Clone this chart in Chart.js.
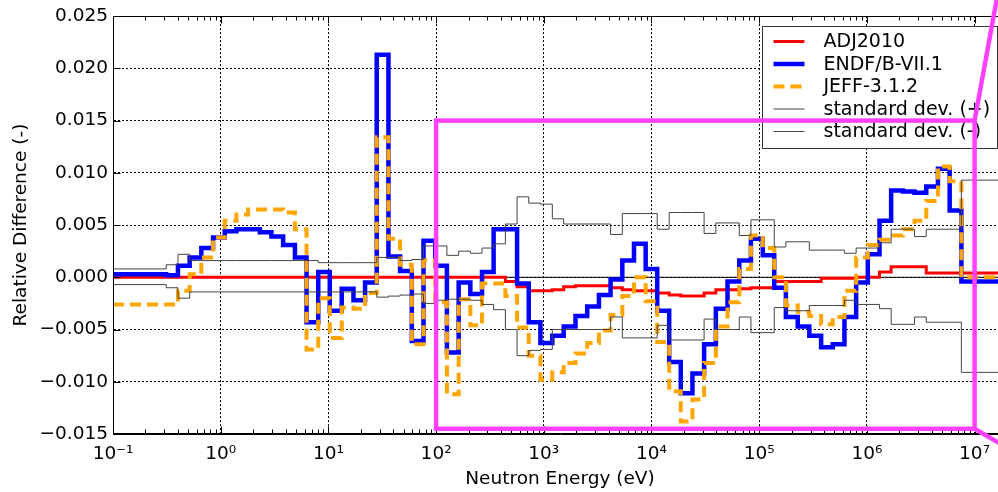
<!DOCTYPE html>
<html>
<head>
<meta charset="utf-8">
<script src="https://cdn.jsdelivr.net/npm/chart.js@4/dist/chart.umd.min.js"></script>
<style>
  html, body { margin: 0; padding: 0; background: #fff; overflow: hidden; }
  #wrap { width: 1010px; height: 492px; }
</style>
</head>
<body>
<div id="wrap"><canvas id="myChart" width="1010" height="492"></canvas></div>
<script>
// group boundaries in eV (quarter-lethargy groups above ~0.3 eV)
var edges = [0.1, 0.312, 0.401, 0.515, 0.661, 0.849, 1.09, 1.40, 1.80, 2.31,
    2.96, 3.80, 4.89, 6.27, 8.05, 10.3, 13.3, 17.1, 21.9, 28.1,
    36.1, 46.3, 59.5, 76.4, 98.1, 126, 162, 208, 267, 342,
    440, 565, 725, 931, 1.20e3, 1.53e3, 1.97e3, 2.53e3, 3.25e3, 4.17e3,
    5.36e3, 6.88e3, 8.83e3, 1.13e4, 1.46e4, 1.87e4, 2.40e4, 3.08e4, 3.96e4, 5.08e4,
    6.53e4, 8.38e4, 1.08e5, 1.38e5, 1.77e5, 2.28e5, 2.92e5, 3.76e5, 4.82e5, 6.19e5,
    7.95e5, 1.02e6, 1.31e6, 1.68e6, 2.16e6, 2.77e6, 3.56e6, 4.57e6, 5.87e6, 7.54e6,
    2.0e7];

// relative difference per group (one value per interval of edges)
var adj2010 = [0, 0, 0, 0, 0, 0, 0, 0, 0, 0,
    0, 0, 0, 0, 0, 0, 0, 0, 0, 0,
    0, 0, 0, 0, 0, 0, 0, 0, 0, 0,
    -0.0004, -0.0009, -0.0013, -0.0013, -0.0012, -0.0009, -0.0008, -0.0008, -0.0008, -0.0010,
    -0.0012, -0.0013, -0.0013, -0.0015, -0.0017, -0.0018, -0.0018, -0.0015, -0.0012, -0.0012,
    -0.0011, -0.0010, -0.0010, -0.0004, -0.0004, -0.0004, -0.0004, -0.0001, -0.0001, -0.0001,
    0.0000, 0.0000, 0.0005, 0.0010, 0.0010, 0.0010, 0.0004, 0.0004, 0.0004, 0.0004];

var endf71 = [0.0003, 0.0002, 0.0011, 0.0019, 0.0028, 0.0038, 0.0044, 0.0046, 0.0046, 0.0043,
    0.0039, 0.0031, 0.0019, -0.0043, 0.0005, -0.0032, -0.0011, -0.0022, -0.0005, 0.0213,
    0.0020, 0.0006, -0.0061, 0.0035, 0.0011, -0.0072, -0.0005, -0.0016, 0.0005, 0.0046,
    0.0046, -0.0006, -0.0043, -0.0063, -0.0056, -0.0047, -0.0037, -0.0028, -0.0017, -0.0002,
    0.0016, 0.0032, 0.0008, -0.0032, -0.0081, -0.0111, -0.0092, -0.0064, -0.0030, -0.0004,
    0.0016, 0.0037, 0.0021, -0.0010, -0.0038, -0.0047, -0.0056, -0.0067, -0.0064, -0.0038,
    -0.0005, 0.0022, 0.0054, 0.0083, 0.0082, 0.0081, 0.0087, 0.0104, 0.0064, -0.0004];

var jeff312 = [-0.0026, -0.0026, -0.0013, 0.0003, 0.0019, 0.0038, 0.0054, 0.0060, 0.0065, 0.0065,
    0.0065, 0.0062, 0.0046, -0.0069, -0.0020, -0.0058, -0.0029, -0.0030, -0.0015, 0.0134,
    0.0037, 0.0012, -0.0064, 0.0016, -0.0024, -0.0112, -0.0021, -0.0046, -0.0006, -0.0006,
    -0.0018, -0.0048, -0.0075, -0.0098, -0.0091, -0.0082, -0.0073, -0.0063, -0.0051, -0.0036,
    -0.0018, 0.0000, -0.0023, -0.0062, -0.0109, -0.0138, -0.0117, -0.0082, -0.0047, -0.0024,
    0.0008, 0.0040, 0.0028, 0.0000, -0.0027, -0.0033, -0.0037, -0.0045, -0.0038, -0.0013,
    0.0019, 0.0031, 0.0036, 0.0040, 0.0046, 0.0054, 0.0073, 0.0106, 0.0092, 0.0000];

var stdPlus = [0.0008, 0.0012, 0.0022, 0.0016, 0.0016, 0.0016, 0.0016, 0.0016, 0.0016, 0.0016,
    0.0016, 0.0016, 0.0016, 0.0016, 0.0014, 0.0014, 0.0014, 0.0014, 0.0014, 0.0019,
    0.0019, 0.0016, 0.0017, 0.0030, 0.0030, 0.0021, 0.0025, 0.0023, 0.0028, 0.0032,
    0.0051, 0.0077, 0.0071, 0.0070, 0.0056, 0.0051, 0.0051, 0.0051, 0.0051, 0.0041,
    0.0061, 0.0061, 0.0061, 0.0046, 0.0062, 0.0062, 0.0062, 0.0042, 0.0052, 0.0052,
    0.0040, 0.0055, 0.0055, 0.0029, 0.0034, 0.0034, 0.0026, 0.0026, 0.0026, 0.0023,
    0.0028, 0.0028, 0.0033, 0.0046, 0.0046, 0.0039, 0.0046, 0.0046, 0.0046, 0.0093];

var stdMinus = [-0.0007, -0.0010, -0.0020, -0.0014, -0.0014, -0.0014, -0.0014, -0.0014, -0.0014, -0.0014,
    -0.0014, -0.0014, -0.0014, -0.0014, -0.0014, -0.0014, -0.0014, -0.0014, -0.0014, -0.0019,
    -0.0018, -0.0017, -0.0016, -0.0025, -0.0022, -0.0021, -0.0021, -0.0022, -0.0026, -0.0031,
    -0.0050, -0.0075, -0.0070, -0.0069, -0.0050, -0.0050, -0.0050, -0.0050, -0.0050, -0.0038,
    -0.0058, -0.0058, -0.0058, -0.0046, -0.0060, -0.0060, -0.0060, -0.0040, -0.0050, -0.0050,
    -0.0038, -0.0053, -0.0053, -0.0029, -0.0032, -0.0032, -0.0027, -0.0027, -0.0027, -0.0022,
    -0.0026, -0.0026, -0.0030, -0.0045, -0.0045, -0.0038, -0.0043, -0.0043, -0.0043, -0.0091];

var decadeTicks = [1e-1, 1e0, 1e1, 1e2, 1e3, 1e4, 1e5, 1e6, 1e7];

// zoom-region marker (data units) and its two connector end points
var zoomBoxX = [1e2, 1e7];
var zoomBoxY = [-0.0145, 0.015];
var zoomLinks = [[1e7, 0.015, 1.7e7, 0.028], [1e7, -0.0145, 2e7, -0.0163]];

var FONT = 'DejaVu Sans';
var FONT_SIZE = 18.5;

Chart.defaults.font.family = FONT;
Chart.defaults.font.size = FONT_SIZE;
Chart.defaults.color = '#000';

// turn group values into points for a step line
function steps(values) {
    var pts = [];
    for (var i = 0; i < values.length; i++) {
        pts.push({x: edges[i], y: values[i]});
    }
    pts.push({x: edges[edges.length - 1], y: values[values.length - 1]});
    return pts;
}

var supDigits = {'-': '\u207B', '0': '\u2070', '1': '\u00B9', '2': '\u00B2', '3': '\u00B3',
    '4': '\u2074', '5': '\u2075', '6': '\u2076', '7': '\u2077', '8': '\u2078', '9': '\u2079'};

function powerLabel(v) {
    var e = String(Math.round(Math.log10(v)));
    var s = '';
    for (var i = 0; i < e.length; i++) s += supDigits[e[i]];
    return '10' + s;
}

// inward ticks, top spine and legend box
var axesDecor = {
    id: 'axesDecor',
    afterDatasetsDraw: function(chart) {
        var ctx = chart.ctx;
        var a = chart.chartArea;
        var xs = chart.scales.x, ys = chart.scales.y;
        ctx.save();
        ctx.strokeStyle = '#000';
        ctx.lineWidth = 1;
        ctx.setLineDash([]);
        ctx.beginPath();
        var top = Math.round(a.top) + 0.5, bot = Math.round(a.bottom) - 0.5, left = Math.round(a.left) + 0.5;
        ctx.moveTo(left, bot); ctx.lineTo(left, top); ctx.lineTo(a.right + 5, top);
        ctx.moveTo(left, bot); ctx.lineTo(a.right + 5, bot);
        // x ticks, major and minor, pointing inward
        for (var d = 0; d < decadeTicks.length; d++) {
            for (var m = 1; m <= 9; m++) {
                var v = decadeTicks[d] * m;
                if (v > xs.max) break;
                var px = Math.round(xs.getPixelForValue(v)) + 0.5;
                var len = (m === 1) ? 7 : 4;
                ctx.moveTo(px, bot); ctx.lineTo(px, bot - len);
                ctx.moveTo(px, top); ctx.lineTo(px, top + len);
            }
        }
        ys.ticks.forEach(function(t) {
            var py = Math.round(ys.getPixelForValue(t.value)) + 0.5;
            ctx.moveTo(left, py); ctx.lineTo(left + 7, py);
        });
        ctx.stroke();

        // legend in the upper right corner of the plot
        var items = chart.data.datasets.filter(function(ds) { return ds.label; });
        var bw = 235, bh = 122;
        var bx = Math.round(a.right) - 10 - bw + 0.5, by = Math.round(a.top) + 10 + 0.5;
        ctx.fillStyle = '#fff';
        ctx.fillRect(bx, by, bw, bh);
        ctx.strokeStyle = '#333';
        ctx.strokeRect(bx, by, bw, bh);
        ctx.font = '19px "' + FONT + '"';
        ctx.textBaseline = 'middle';
        ctx.textAlign = 'left';
        items.forEach(function(ds, i) {
            var y = by + 15 + i * 22.5;
            ctx.beginPath();
            ctx.strokeStyle = ds.borderColor;
            ctx.lineWidth = ds.borderWidth;
            ctx.setLineDash(ds.borderDash || []);
            ctx.moveTo(bx + 11, y); ctx.lineTo(bx + 42, y);
            ctx.stroke();
            ctx.fillStyle = '#000';
            ctx.fillText(ds.label, bx + 61, y + 1);
        });
        ctx.restore();
    },
    afterDraw: function(chart) {
        var ctx = chart.ctx;
        var xs = chart.scales.x, ys = chart.scales.y;
        var x0 = xs.getPixelForValue(zoomBoxX[0]), x1 = xs.getPixelForValue(zoomBoxX[1]);
        var y0 = ys.getPixelForValue(zoomBoxY[1]), y1 = ys.getPixelForValue(zoomBoxY[0]);
        ctx.save();
        ctx.strokeStyle = '#ff40ff';
        ctx.lineWidth = 4.5;
        ctx.lineJoin = 'miter';
        ctx.strokeRect(x0, y0, x1 - x0, y1 - y0);
        ctx.beginPath();
        zoomLinks.forEach(function(l) {
            ctx.moveTo(xs.getPixelForValue(l[0]), ys.getPixelForValue(l[1]));
            ctx.lineTo(xs.getPixelForValue(l[2]), ys.getPixelForValue(l[3]));
        });
        ctx.stroke();
        ctx.restore();
    }
};

var ctx = document.getElementById('myChart');
var myChart = new Chart(ctx, {
    type: 'line',
    data: {
        datasets: [{
            data: [{x: edges[0], y: 0}, {x: edges[edges.length - 1], y: 0}],
            borderColor: '#000',
            borderWidth: 1,
            order: 10
        }, {
            label: 'ADJ2010',
            data: steps(adj2010),
            borderColor: '#ff0000',
            borderWidth: 3,
            stepped: true,
            order: 5
        }, {
            label: 'ENDF/B-VII.1',
            data: steps(endf71),
            borderColor: '#0000ff',
            borderWidth: 4.5,
            stepped: true,
            order: 4
        }, {
            label: 'JEFF-3.1.2',
            data: steps(jeff312),
            borderColor: '#ffa500',
            borderWidth: 4,
            borderDash: [11, 6],
            stepped: true,
            order: 3
        }, {
            label: 'standard dev. (+)',
            data: steps(stdPlus),
            borderColor: '#444',
            borderWidth: 1,
            stepped: true,
            order: 2
        }, {
            label: 'standard dev. (-)',
            data: steps(stdMinus),
            borderColor: '#444',
            borderWidth: 1,
            stepped: true,
            order: 1
        }]
    },
    options: {
        responsive: false,
        animation: false,
        layout: { padding: { top: 15, right: 3, bottom: 0, left: 0 } },
        elements: { point: { radius: 0 }, line: { tension: 0 } },
        plugins: { legend: { display: false }, tooltip: { enabled: false } },
        scales: {
            x: {
                type: 'logarithmic',
                min: 0.1,
                max: 2e7,
                afterBuildTicks: function(axis) {
                    axis.ticks = decadeTicks.map(function(v) { return {value: v, major: true}; });
                },
                afterFit: function(scale) { scale.height = 58; },
                ticks: {
                    autoSkip: false,
                    maxRotation: 0,
                    padding: 9,
                    callback: function(v) { return powerLabel(v); }
                },
                grid: { color: '#000', lineWidth: 1, drawTicks: false },
                border: { display: true, color: '#000', width: 1, dash: [2, 2] },
                title: {
                    display: true,
                    text: 'Neutron Energy (eV)',
                    padding: { top: 0, bottom: 2 }
                }
            },
            y: {
                min: -0.015,
                max: 0.025,
                afterFit: function(scale) { scale.width = 113; },
                ticks: {
                    stepSize: 0.005,
                    padding: 5,
                    callback: function(v) {
                        if (Math.abs(v) < 1e-9) return '0.000';
                        return (v < 0 ? '\u2212' : '') + Math.abs(v).toFixed(3);
                    }
                },
                grid: { color: '#000', lineWidth: 1, drawTicks: false },
                border: { display: true, color: '#000', width: 1, dash: [2, 2] },
                title: {
                    display: true,
                    text: 'Relative Difference (-)',
                    padding: { top: 10, bottom: 0 }
                }
            }
        }
    },
    plugins: [axesDecor]
});
</script>
</body>
</html>
